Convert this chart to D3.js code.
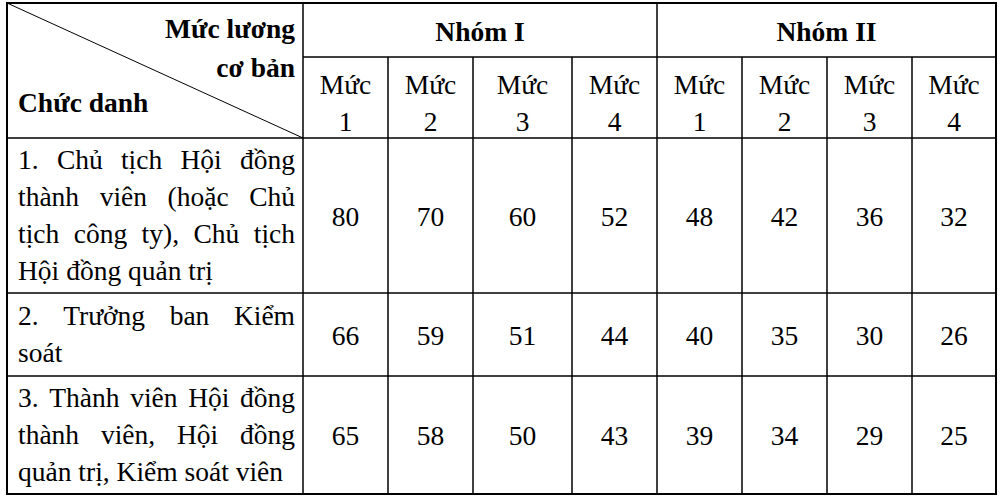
<!DOCTYPE html>
<html><head><meta charset="utf-8">
<script src="https://cdn.jsdelivr.net/npm/d3@7"></script>
<style>body{margin:0;background:#fff}</style></head>
<body><svg id="c" width="1000" height="498"></svg>
<script>
const groups = ["Nhóm I", "Nhóm II"];
const levels = ["1", "2", "3", "4", "1", "2", "3", "4"];
const roles = [
  ["1. Chủ tịch Hội đồng", "thành viên (hoặc Chủ", "tịch công ty), Chủ tịch", "Hội đồng quản trị"],
  ["2. Trưởng ban Kiểm", "soát"],
  ["3. Thành viên Hội đồng", "thành viên, Hội đồng", "quản trị, Kiểm soát viên"]
];
const values = [
  [80, 70, 60, 52, 48, 42, 36, 32],
  [66, 59, 51, 44, 40, 35, 30, 26],
  [65, 58, 50, 43, 39, 34, 29, 25]
];

const svg = d3.select("#c");
const F = "'Liberation Serif','Times New Roman',serif";
const fs = 27.5;
const colX = [303, 388, 473, 572, 657, 742, 827, 912, 996];
const L = 7, T = 3, H1 = 57, H2 = 138;
const rowY = [138, 293, 376, 494];
const line = (x1,y1,x2,y2,w=1.5)=>svg.append("line").attr("x1",x1).attr("y1",y1).attr("x2",x2).attr("y2",y2).attr("stroke","#000").attr("stroke-width",w);
const text = (s,x,y,anchor="middle",bold=false)=>svg.append("text").text(s).attr("x",x).attr("y",y).attr("text-anchor",anchor).attr("font-family",F).attr("font-size",fs).attr("font-weight",bold?"bold":"normal").attr("fill","#000");

svg.append("rect").attr("x",L).attr("y",T).attr("width",colX[8]-L).attr("height",rowY[3]-T).attr("fill","none").attr("stroke","#000").attr("stroke-width",2);
line(colX[0],H1,colX[8],H1);
rowY.slice(0,3).forEach(y=>line(L,y,colX[8],y));
colX.slice(0,8).forEach((x,i)=>line(x,(i===0||i===4)?T:H1,x,rowY[3]));
line(L,T,colX[0],H2,1);

text("Mức lương",295,38,"end",true);
text("cơ bản",295,77,"end",true);
text("Chức danh",18,112,"start",true);
groups.forEach((g,i)=>text(g,(colX[i*4]+colX[i*4+4])/2,41,"middle",true));
levels.forEach((l,i)=>{const cx=(colX[i]+colX[i+1])/2; text("Mức",cx,94); text(l,cx,131);});

const lh = 37;
roles.forEach((lines,r)=>{
  const mid=(rowY[r]+rowY[r+1])/2;
  const y0 = mid - (lines.length-1)*lh/2 + 9;
  lines.forEach((s,k)=>{
    const y=y0+k*lh;
    const last = k===lines.length-1;
    const words=s.split(" ");
    if(last||words.length<2){ text(s,18,y,"start"); return; }
    const nodes=words.map(w=>text(w,0,y,"start"));
    const ws=nodes.map(n=>n.node().getComputedTextLength());
    const tot=d3.sum(ws); const gap=(295-18-tot)/(words.length-1);
    let x=18; nodes.forEach((n,j)=>{n.attr("x",x); x+=ws[j]+gap;});
  });
  values[r].forEach((v,i)=>text(v,(colX[i]+colX[i+1])/2,mid+10));
});
</script></body></html>
